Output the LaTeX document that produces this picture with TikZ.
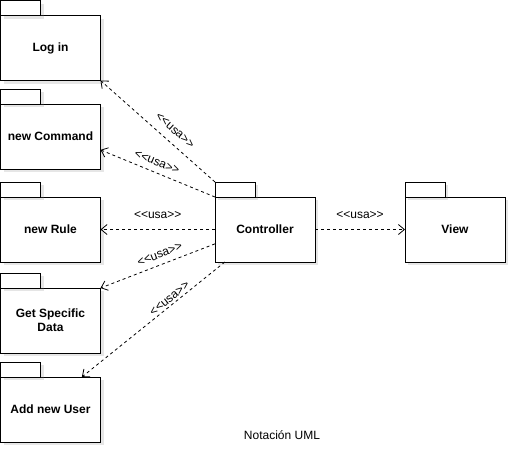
\documentclass[tikz,border=0pt]{standalone}
\usepackage{fontspec}
\setmainfont{Liberation Sans}[Ligatures=TeXOff]
\usetikzlibrary{arrows.meta,shadows}

\tikzset{
	pkg/.style={draw,line width=1pt,fill=white,minimum width=100pt,minimum height=65pt,outer sep=0pt,align=center,font=\fontsize{12}{14}\selectfont\bfseries,drop shadow={shadow xshift=3pt,shadow yshift=-3pt,opacity=0.2}},
	pkgtab/.style={draw,line width=1pt,fill=white,minimum width=40pt,minimum height=15pt,inner sep=0pt,outer sep=0pt,anchor=south west,drop shadow={shadow xshift=3pt,shadow yshift=-3pt,opacity=0.2}},
	uses/.style={line width=0.8pt,dash pattern=on 3pt off 3pt,-{Straight Barb[length=6pt,width=10pt]}},
	lbl/.style={sloped,inner sep=2pt}
}

\begin{document}
\begin{tikzpicture}[x=1pt,y=-1pt,font=\fontsize{12}{14}\selectfont]
	\useasboundingbox (0,0) rectangle (512,448);
	\node[pkg] (login) at (50.5,48) {Log in};
	\node[pkg] (cmd) at (50.5,136.5) {new Command};
	\node[pkg] (rule) at (50.5,229.5) {new Rule};
	\node[pkg] (data) at (50.5,320.5) {Get Specific\\Data};
	\node[pkg] (user) at (50.5,409.5) {Add new User};
	\node[pkg] (ctrl) at (265,229.5) {Controller};
	\node[pkg] (view) at (455,229.5) {View};
	\foreach \p in {login,cmd,rule,data,user,ctrl,view}
		\node[pkgtab] (\p-tab) at (\p.north west) {};

	\draw[uses] (ctrl-tab.north west) -- (login.south east) node[lbl,pos=0.42,above=6pt] {<<usa>>};
	\draw[uses] (ctrl.north west) -- (cmd.-15) node[lbl,pos=0.54,above=4pt] {<<usa>>};
	\draw[uses] (ctrl.west) -- (rule.east) node[lbl,midway,above=8pt] {<<usa>>};
	\draw[uses] (ctrl.196) -- (data.north east) node[lbl,pos=0.45,above=4pt] {<<usa>>};
	\draw[uses] (ctrl.219) -- (user.46) node[lbl,pos=0.36,above] {<<usa>>};
	\draw[uses] (ctrl.east) -- (view.west) node[lbl,midway,above=8pt] {<<usa>>};

	\node (title) at (282,435) {Notación UML};
\end{tikzpicture}
\end{document}
